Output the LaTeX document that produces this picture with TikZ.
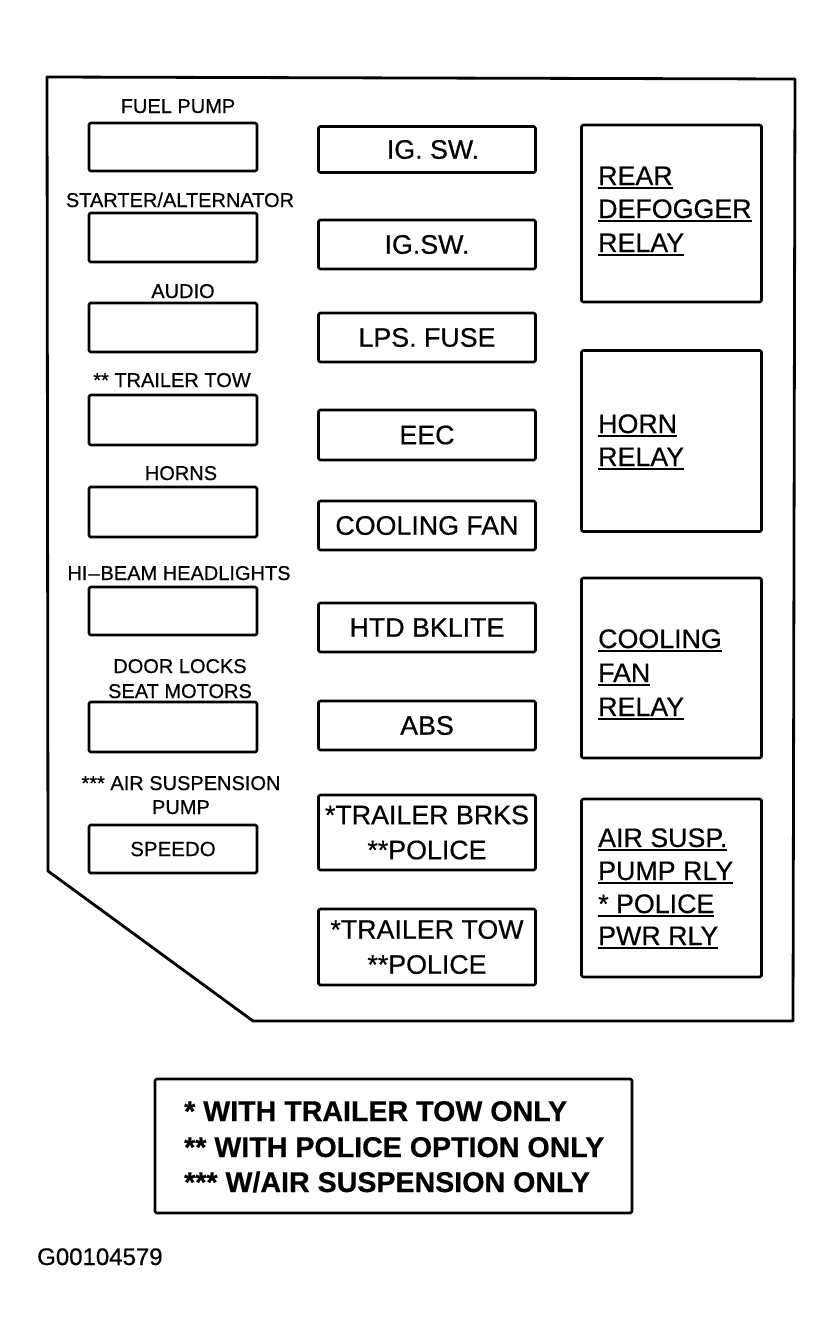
\documentclass[tikz,border=0pt]{standalone}
\usepackage{fontspec}
\setmainfont{Liberation Sans}[FakeBold=0.5]
\newcommand\ulx[1]{\setbox0\hbox{#1}\rlap{\rule[-4pt]{\wd0}{2pt}}\box0}
\begin{document}
\begin{tikzpicture}[x=1pt,y=-1pt,
  line join=round,
  fbox/.style={draw,line width=2.6pt,inner sep=0pt,rounded corners=1.5pt},
  lbox/.style={fbox,minimum width=168pt,minimum height=48pt},
  mbox/.style={fbox,minimum width=217pt,minimum height=48pt,
     font=\fontsize{26.8}{35}\selectfont,align=center},
  rbox/.style={fbox,minimum width=180pt},
  lbl/.style={anchor=base,inner sep=0pt,font=\fontsize{20}{25}\selectfont},
  rtxt/.style={anchor=base west,inner sep=0pt,font=\fontsize{26.8}{30}\selectfont},
  leg/.style={anchor=base west,inner sep=0pt,font=\bfseries\fontsize{28.6}{34}\selectfont}]
\useasboundingbox (0,0) rectangle (836,1342);
% outer border
\draw[line width=2.8pt] (47,77) -- (795,79) -- (793,1021) -- (253,1021) -- (48,871) -- cycle;
% left column
\node[lbl] (t1) at (178,113) {FUEL PUMP};
\node[lbox] (b1) at (173,147) {};
\node[lbl] (t2) at (180,207) {STARTER/ALTERNATOR};
\node[lbox,minimum height=49pt] (b2) at (173,237.5) {};
\node[lbl] (t3) at (183,298) {AUDIO};
\node[lbox,minimum height=49pt] (b3) at (173,327.5) {};
\node[lbl] (t4) at (172,387) {** TRAILER TOW};
\node[lbox,minimum height=50pt] (b4) at (173,420) {};
\node[lbl] (t5) at (181,480) {HORNS};
\node[lbox,minimum height=50pt] (b5) at (173,512) {};
\node[lbl] (t6) at (179,580) {HI{\kern1pt}–{\kern1pt}BEAM HEADLIGHTS};
\node[lbox] (b6) at (173,611) {};
\node[lbl] (t7) at (180,673) {DOOR LOCKS};
\node[lbl] (t7b) at (180,698) {SEAT MOTORS};
\node[lbox,minimum height=50pt] (b7) at (173,727) {};
\node[lbl] (t8) at (181,790) {*** AIR SUSPENSION};
\node[lbl] (t8b) at (181,814) {PUMP};
\node[lbox,font=\fontsize{20.5}{24}\selectfont] (b8) at (173,849) {SPEEDO};
% middle column
\node[mbox,minimum height=46pt] (m1) at (427,149.5) {\hspace{12pt}IG. SW.};
\node[mbox,minimum height=49pt] (m2) at (427,244.5) {IG.SW.};
\node[mbox,minimum height=49pt] (m3) at (427,337.5) {LPS. FUSE};
\node[mbox,minimum height=50pt] (m4) at (427,435) {EEC};
\node[mbox,minimum height=49pt] (m5) at (427,525.5) {COOLING FAN};
\node[mbox,minimum height=49pt] (m6) at (427,627.5) {HTD BKLITE};
\node[mbox,minimum height=49pt] (m7) at (427,725.5) {ABS};
\node[mbox,minimum height=75pt] (m8) at (427,832.5) {*TRAILER BRKS\\**POLICE};
\node[mbox,minimum height=76pt] (m9) at (427,947) {*TRAILER TOW\\**POLICE};
% right column
\node[rbox,minimum height=177pt] (r1) at (671.5,213.5) {};
\node[rtxt] (r1a) at (598,185) {\ulx{REAR}};
\node[rtxt] (r1b) at (598,218) {\ulx{DEFOGGER}};
\node[rtxt] (r1c) at (598,252) {\ulx{RELAY}};
\node[rbox,minimum height=181pt] (r2) at (671.5,441) {};
\node[rtxt] (r2a) at (598,433) {\ulx{HORN}};
\node[rtxt] (r2b) at (598,466) {\ulx{RELAY}};
\node[rbox,minimum height=180pt] (r3) at (671.5,668) {};
\node[rtxt] (r3a) at (598,648) {\ulx{COOLING}};
\node[rtxt] (r3b) at (598,682) {\ulx{FAN}};
\node[rtxt] (r3c) at (598,716) {\ulx{RELAY}};
\node[rbox,minimum height=178pt] (r4) at (671.5,888) {};
\node[rtxt] (r4a) at (598,847) {\ulx{AIR SUSP.}};
\node[rtxt] (r4b) at (598,880) {\ulx{PUMP RLY}};
\node[rtxt] (r4c) at (598,913) {\ulx{* POLICE}};
\node[rtxt] (r4d) at (598,945) {\ulx{PWR RLY}};
% legend
\node[fbox,minimum width=477pt,minimum height=134pt] (lg) at (393.5,1146) {};
\node[leg] (l1) at (184,1121) {* WITH TRAILER TOW ONLY};
\node[leg] (l2) at (184,1157) {** WITH POLICE OPTION ONLY};
\node[leg] (l3) at (184,1192) {*** W/AIR SUSPENSION ONLY};
% figure id
\node[anchor=base west,inner sep=0pt,font=\fontsize{24}{28}\selectfont] (id) at (37,1265) {G00104579};
\end{tikzpicture}
\end{document}
